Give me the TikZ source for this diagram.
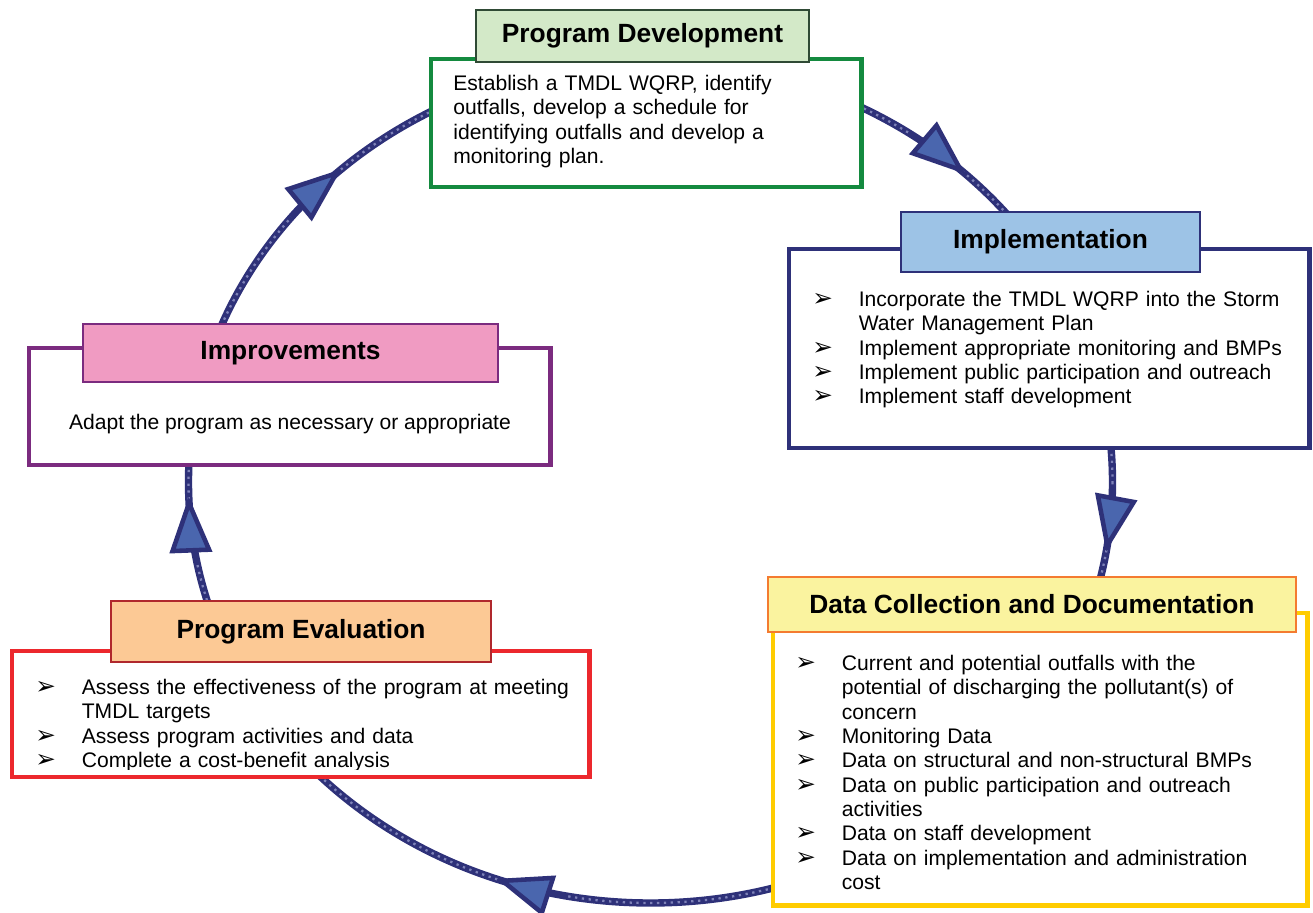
\documentclass[tikz,border=0pt]{standalone}
\usepackage{fontspec}
\setmainfont{Liberation Sans}
\newfontfamily\bulletfont{DejaVu Sans}
\usetikzlibrary{
    arrows.meta,
    positioning,
    calc
}
\definecolor{cyclenavy}{HTML}{2E3179}
\definecolor{cycledot}{HTML}{7E82B8}
\definecolor{tipblue}{HTML}{4A66AE}
\definecolor{devgreen}{HTML}{148A3F}
\definecolor{devfill}{HTML}{D3E9C8}
\definecolor{devedge}{HTML}{2F4A35}
\definecolor{implfill}{HTML}{9DC3E6}
\definecolor{datayellow}{HTML}{FFCC00}
\definecolor{datafill}{HTML}{FAF39F}
\definecolor{dataorange}{HTML}{F47B30}
\definecolor{evalred}{HTML}{EC282D}
\definecolor{evalfill}{HTML}{FCC995}
\definecolor{evaledge}{HTML}{B0282D}
\definecolor{imprpurple}{HTML}{7B2B7F}
\definecolor{imprfill}{HTML}{F09BC2}
\newcommand{\bitem}[1]{\hangindent=0.93cm\hangafter=1\noindent
    \makebox[0.93cm][l]{\bulletfont\fontsize{14}{14}\selectfont\char"27A2}#1\par}
\tikzstyle{bodybox} = [
    rectangle,
    fill=white,
    line width=2.8pt,
    inner sep=0pt,
    outer sep=0pt,
    anchor=north west
]
\tikzstyle{titlebox} = [
    rectangle,
    line width=1.1pt,
    inner sep=0pt,
    text=black,
    font=\fontsize{15}{18}\selectfont\bfseries
]
\tikzstyle{bodytext} = [
    anchor=north west,
    inner sep=0pt,
    align=left,
    font=\fontsize{12}{13.85}\selectfont
]
\tikzstyle{cyclepath} = [
    line width=4.2pt,
    draw=cyclenavy
]
\tikzstyle{cycledots} = [
    line width=1.3pt,
    draw=cycledot,
    dash pattern=on 1.3pt off 2.6pt
]
\tikzstyle{cyclearrow} = [
    line width=2.6pt,
    draw=cyclenavy,
    -{Triangle[length=1.12cm, width=0.84cm, fill=tipblue]}
]

\begin{document}
\begin{tikzpicture}[x=0.02cm, y=-0.02cm]
    \useasboundingbox (0,0) rectangle (1313,913);

    % The cycle
    \coordinate (hub) at (650.5,482);
    \draw[cyclepath] (hub) ellipse [x radius=462, y radius=421];
    \draw[cycledots] (hub) ellipse [x radius=462, y radius=421];
    \foreach \a in {-47, 9.5, 109.5, 178, 228}
        \draw[cyclearrow] ($(hub)+({\a-9}:462 and 421)$)
            arc[start angle=\a-9, end angle=\a, x radius=462, y radius=421];

    % Bodies
    \node[bodybox, draw=devgreen, minimum width=8.62cm, minimum height=2.56cm] (dev) at (431,59) {};
    \node[bodybox, draw=cyclenavy, minimum width=10.42cm, minimum height=3.98cm] (impl) at (789,249) {};
    \node[bodybox, draw=datayellow, minimum width=10.7cm, minimum height=5.86cm] (data) at (773,613) {};
    \node[bodybox, draw=evalred, minimum width=11.56cm, minimum height=2.52cm] (eval) at (12,651) {};
    \node[bodybox, draw=imprpurple, minimum width=10.44cm, minimum height=2.34cm] (impr) at (29,348) {};

    % Texts
    \node[bodytext, text width=8.4cm] (devtxt) at (453,75) {Establish a TMDL WQRP, identify\newline
        outfalls, develop a schedule for\newline identifying outfalls and develop a\newline monitoring plan.};
    \node[bodytext, text width=9.9cm] (impltxt) at (812,291) {%
        \bitem{Incorporate the TMDL WQRP into the Storm\newline Water Management Plan}
        \bitem{Implement appropriate monitoring and BMPs}
        \bitem{Implement public participation and outreach}
        \bitem{Implement staff development}};
    \node[bodytext, text width=10.2cm] (datatxt) at (795,655) {%
        \bitem{Current and potential outfalls with the\newline potential of discharging the pollutant(s) of\newline concern}
        \bitem{Monitoring Data}
        \bitem{Data on structural and non-structural BMPs}
        \bitem{Data on public participation and outreach\newline activities}
        \bitem{Data on staff development}
        \bitem{Data on implementation and administration\newline cost}};
    \begin{scope}
        \clip (12,651) rectangle (590,769);
        \node[bodytext, text width=11cm] (evaltxt) at (35,679) {%
            \bitem{Assess the effectiveness of the program at meeting\newline TMDL targets}
            \bitem{Assess program activities and data}
            \bitem{Complete a cost-benefit analysis}};
    \end{scope}
    \node[anchor=base, inner sep=0pt, font=\fontsize{12}{13.85}\selectfont] (imprtxt) at (290,429)
        {Adapt the program as necessary or appropriate};

    % Titles
    \node[titlebox, draw=devedge, fill=devfill, minimum width=6.66cm, minimum height=1.04cm] (devtitle) at (642.5,36) {Program Development};
    \node[titlebox, draw=cyclenavy, fill=implfill, minimum width=5.98cm, minimum height=1.2cm] (impltitle) at (1050.5,242) {Implementation};
    \node[titlebox, draw=dataorange, fill=datafill, minimum width=10.56cm, minimum height=1.1cm] (datatitle) at (1032,604.5) {Data Collection and Documentation};
    \node[titlebox, draw=evaledge, fill=evalfill, minimum width=7.6cm, minimum height=1.22cm] (evaltitle) at (301,631.5) {Program Evaluation};
    \node[titlebox, draw=imprpurple, fill=imprfill, minimum width=8.3cm, minimum height=1.16cm] (imprtitle) at (290.5,353) {Improvements};
\end{tikzpicture}
\end{document}
